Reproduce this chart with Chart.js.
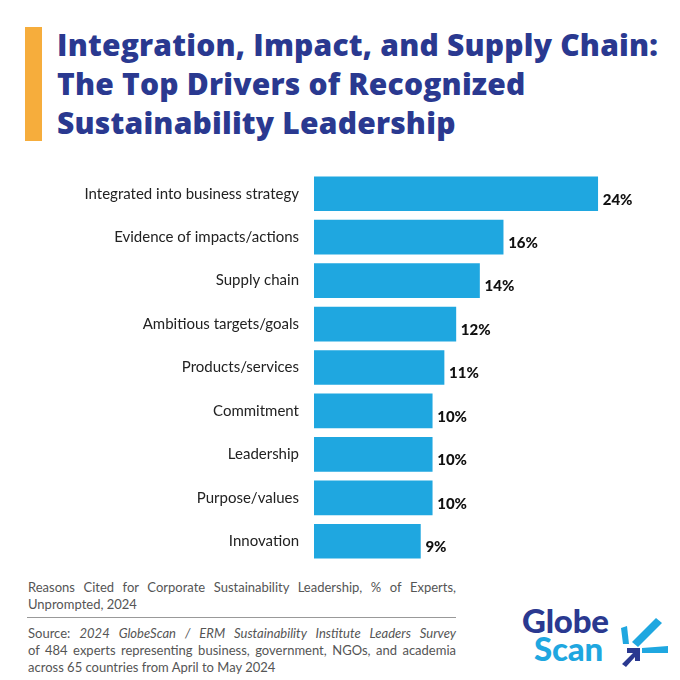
<!DOCTYPE html>
<html>
<head>
<meta charset="utf-8">
<script src="https://cdn.jsdelivr.net/npm/chart.js@4"></script>
<style>
  html, body { margin:0; padding:0; background:#fff; }
  body { width:680px; height:680px; position:relative; overflow:hidden; font-family: Lato, "Open Sans", sans-serif; }
  .accent { position:absolute; left:25px; top:27px; width:17px; height:114px; background:#F6AD3C; }
  .title { position:absolute; left:57px; top:25px; margin:0; font-family:"Open Sans", sans-serif; font-size:30px; line-height:39px; font-weight:800; color:#2A3990; letter-spacing:0.2px; white-space:nowrap; }
  #chart-drivers { position:absolute; left:0; top:156px; }
  .note { position:absolute; left:28px; top:579px; width:428px; font-size:13px; line-height:17px; color:#555; }
  .rule { position:absolute; left:27px; top:617px; width:429px; height:1px; background:#999; }
  .source { position:absolute; left:28px; top:625px; width:428px; font-size:13px; line-height:17px; color:#555; }
  .jl { display:block; text-align:justify; text-align-last:justify; }
  .ll { display:block; text-align:left; }
  .logo { position:absolute; left:522px; top:604px; width:150px; height:66px; }
  .logo .g { position:absolute; left:0; top:0; font-size:33px; line-height:33px; font-weight:900; color:#2A3990; letter-spacing:-0.2px; }
  .logo .s { position:absolute; left:12px; top:28px; font-size:33px; line-height:33px; font-weight:900; color:#1FA7E0; letter-spacing:-0.2px; }
</style>
</head>
<body>
<div class="accent"></div>
<h1 class="title">Integration, Impact, and Supply Chain:<br>The Top Drivers of Recognized<br>Sustainability Leadership</h1>

<canvas id="chart-drivers" width="680" height="423"></canvas>

<div class="note"><span class="jl">Reasons Cited for Corporate Sustainability Leadership, % of Experts,</span><span class="ll">Unprompted, 2024</span></div>
<div class="rule"></div>
<div class="source"><span class="jl">Source: <i>2024 GlobeScan / ERM Sustainability Institute Leaders Survey</i></span><span class="jl">of 484 experts representing business, government, NGOs, and academia</span><span class="ll">across 65 countries from April to May 2024</span></div>

<div class="logo">
  <div class="g">Globe</div>
  <div class="s">Scan</div>
  <svg style="position:absolute;left:96px;top:8px" width="52" height="56" viewBox="0 0 52 56">
    <polygon points="3,16 9,14 11,32 5,32" fill="#1FA7E0"/>
    <polygon points="14,30 38,6 44,11 20,35" fill="#1FA7E0"/>
    <polygon points="24,36 50,34 50,41 24,41" fill="#1FA7E0"/>
    <polygon points="4,52 15,41 9,41 9,36 22,36 22,49 17,49 17,45 8,55" fill="#2A3990"/>
  </svg>
</div>

<script>
// data (% of experts, unprompted)
const drivers = [
    'Integrated into business strategy',
    'Evidence of impacts/actions',
    'Supply chain',
    'Ambitious targets/goals',
    'Products/services',
    'Commitment',
    'Leadership',
    'Purpose/values',
    'Innovation'
];
const shares = [24, 16, 14, 12, 11, 10, 10, 10, 9];

const blue = '#1FA7E0';

// value labels at the end of each bar
const barLabels = {
    id: 'barLabels',
    afterDatasetsDraw(chart) {
        const ctx = chart.ctx;
        const meta = chart.getDatasetMeta(0);
        ctx.save();
        ctx.font = '900 15px Lato, sans-serif';
        ctx.fillStyle = '#111';
        ctx.textAlign = 'left';
        ctx.textBaseline = 'middle';
        meta.data.forEach((bar, i) => {
            ctx.fillText(shares[i] + '%', bar.x + 5, bar.y + 6);
        });
        ctx.restore();
    }
};

new Chart(document.getElementById('chart-drivers'), {
    type: 'bar',
    data: {
        labels: drivers,
        datasets: [{ data: shares, backgroundColor: blue, borderWidth: 0, barThickness: 34 }]
    },
    options: {
        indexAxis: 'y',
        responsive: false,
        animation: false,
        layout: { padding: { top: 4, bottom: 4, right: 35, left: 0 } },
        plugins: { legend: { display: false }, tooltip: { enabled: false } },
        scales: {
            x: { display: false, min: 0, max: 28 },
            y: {
                grid: { display: false },
                border: { display: false },
                ticks: { color: '#222', padding: 7, font: { size: 15, family: 'Lato, sans-serif' } },
                afterFit(scale) { scale.width = 314; }
            }
        }
    },
    plugins: [barLabels]
});
</script>
</body>
</html>
